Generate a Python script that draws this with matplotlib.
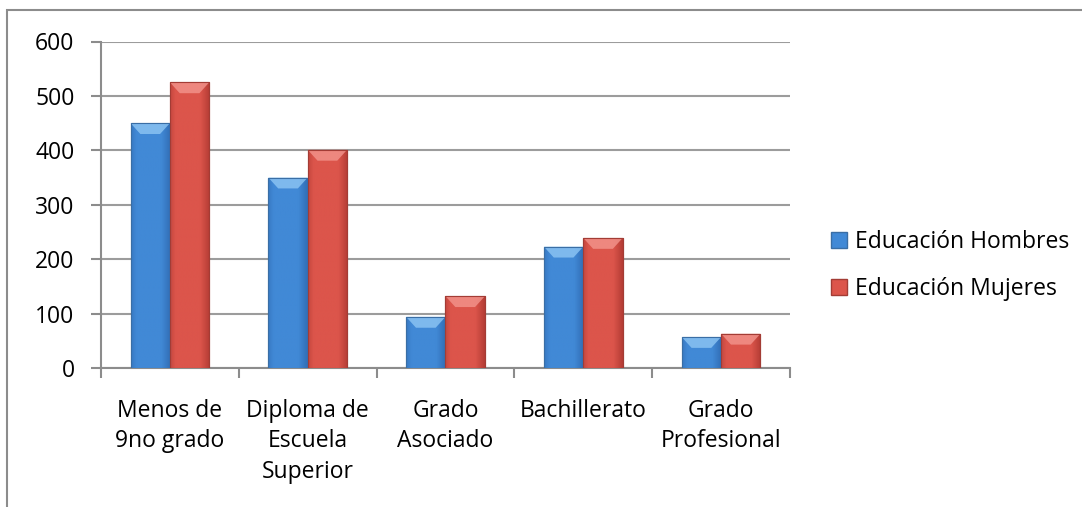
import matplotlib
matplotlib.use("Agg")
import matplotlib.pyplot as plt
import numpy as np
from matplotlib.patches import Rectangle, Polygon
from matplotlib.colors import LinearSegmentedColormap

categories = ["Menos de\n9no grado", "Diploma de\nEscuela\nSuperior", "Grado\nAsociado",
              "Bachillerato", "Grado\nProfesional"]
hombres = [450, 350, 94, 223, 57]
mujeres = [525, 401, 132, 239, 63]
series_names = ["Educación Hombres", "Educación Mujeres"]
yticks = [0, 100, 200, 300, 400, 500, 600]

plt.rcParams['font.family'] = ['Open Sans', 'DejaVu Sans']

W, H = 1082, 507
FS = 16.5
fig = plt.figure(figsize=(W / 100, H / 100), dpi=100)
ax = fig.add_axes([101 / W, 1 - 368 / H, (790 - 101) / W, (368 - 41.5) / H])

# outer chart border
fig.patches.append(Rectangle((7 / W, -0.1), 1.2, 1 - 10 / H + 0.1, transform=fig.transFigure,
                             fill=False, edgecolor='#8c8c8c', linewidth=1.5, zorder=0))

x = np.arange(len(categories))
bw = 1 / 3.5
colors = {
    'h': dict(base='#4189d6', dark='#2c65aa', light='#8ec6f4', edge='#3a6ea5'),
    'm': dict(base='#dc554b', dark='#a8352e', light='#f3958d', edge='#a33c35'),
}

def draw_bars(offset, vals, c):
    bars = ax.bar(x + offset, vals, width=bw, color=c['base'], edgecolor=c['edge'],
                  linewidth=0.8, zorder=3)
    grad = np.linspace(0, 1, 64)
    prof = 1 - np.abs(grad - 0.45) * 1.6
    cmap = LinearSegmentedColormap.from_list('g', [c['dark'], c['base'], c['base']])
    for b in bars:
        x0, y0 = b.get_x(), b.get_y()
        w, h = b.get_width(), b.get_height()
        im = ax.imshow(prof[None, :], extent=[x0, x0 + w, y0, y0 + h], aspect='auto',
                       cmap=cmap, vmin=0, vmax=1, zorder=3.5, interpolation='bicubic')
        im.set_clip_path(b)
        bev = min(20, h * 0.4)
        dx = w * 0.25
        top = y0 + h
        ax.add_patch(Polygon([[x0, top], [x0 + w, top], [x0 + w - dx, top - bev],
                              [x0 + dx, top - bev]], closed=True, facecolor=c['light'],
                             edgecolor='none', alpha=0.8, zorder=3.6))
        ax.add_patch(Rectangle((x0, y0), w, h, fill=False, edgecolor=c['edge'],
                               linewidth=0.8, zorder=3.7))
    return bars

draw_bars(-bw / 2, hombres, colors['h'])
draw_bars(bw / 2, mujeres, colors['m'])

ax.set_xlim(-0.5, len(categories) - 0.5)
ax.set_ylim(0, 600)
ax.set_yticks(yticks)
ax.set_xticks(x)
ax.set_xticklabels(categories, fontsize=FS, linespacing=1.36, color='#000000')
ax.set_xticks(np.arange(-0.5, len(categories)), minor=True)
ax.tick_params(axis='x', which='major', length=0, pad=22)
ax.tick_params(axis='x', which='minor', length=7, width=1.5, color='#8c8c8c', direction='out')
ax.tick_params(axis='y', length=7, width=1.5, color='#8c8c8c', labelsize=FS, pad=12)
ax.yaxis.grid(True, color='#9c9c9c', linewidth=1.5, zorder=0)
ax.set_axisbelow(True)
for s in ['top', 'right']:
    ax.spines[s].set_visible(False)
for s in ['left', 'bottom']:
    ax.spines[s].set_color('#8c8c8c')
    ax.spines[s].set_linewidth(1.5)

handles = [Rectangle((0, 0), 1, 1, facecolor=colors['h']['base'], edgecolor=colors['h']['edge']),
           Rectangle((0, 0), 1, 1, facecolor=colors['m']['base'], edgecolor=colors['m']['edge'])]
fig.legend(handles, series_names, loc='center left', bbox_to_anchor=(831 / W, 1 - 265.5 / H),
           frameon=False, fontsize=FS, handlelength=0.68, handleheight=0.68,
           handletextpad=0.35, labelspacing=1.0, borderaxespad=0, borderpad=0)

fig.savefig('out.png', dpi=100)
